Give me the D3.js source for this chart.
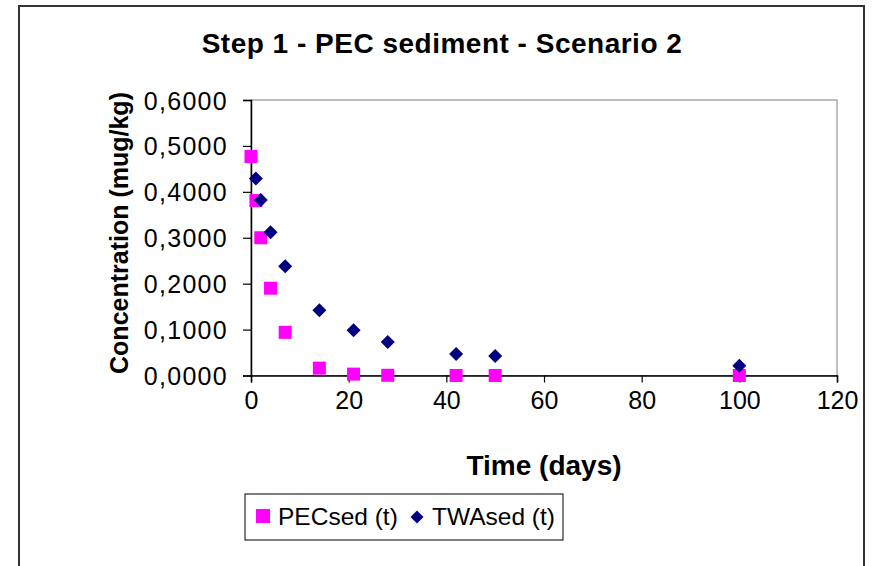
<!DOCTYPE html>
<html>
<head>
<meta charset="utf-8">
<script src="https://cdn.jsdelivr.net/npm/d3@7"></script>
<style>
  body { margin: 0; background: #fff; }
  svg text { font-family: "Liberation Sans", Arial, sans-serif; fill: #000; }
</style>
</head>
<body>
<div id="chart"></div>
<script>
// data
const pecDays = [0, 1, 2, 4, 7, 14, 21, 28, 42, 50, 100];
const pecValues = [0.477, 0.381, 0.300, 0.190, 0.094, 0.016, 0.003, 0.0005, 0.0, 0.0, 0.0];
const twaDays = [1, 2, 4, 7, 14, 21, 28, 42, 50, 100];
const twaValues = [0.429, 0.382, 0.312, 0.238, 0.142, 0.0985, 0.073, 0.047, 0.0425, 0.0214];
const xTicks = [0, 20, 40, 60, 80, 100, 120];
const yTicks = [0, 0.1, 0.2, 0.3, 0.4, 0.5, 0.6];
const seriesNames = ["PECsed (t)", "TWAsed (t)"];
const seriesColors = ["#FF00FF", "#000080"];

const width = 881, height = 566;
const svg = d3.select("#chart").append("svg").attr("width", width).attr("height", height);

svg.append("rect").attr("width", width).attr("height", height).attr("fill", "#fff");

// ydre ramme (bunden ligger uden for billedet)
svg.append("rect")
  .attr("x", 19).attr("y", 6).attr("width", 845).attr("height", 620)
  .attr("fill", "none").attr("stroke", "#333").attr("stroke-width", 2);

// plot område
const plotLeft = 251, plotRight = 837, plotTop = 100, plotBottom = 375.5;
const xScale = d3.scaleLinear().domain([0, 120]).range([plotLeft, plotRight]);
const yScale = d3.scaleLinear().domain([0, 0.6]).range([plotBottom, plotTop]);

svg.append("rect")
  .attr("x", plotLeft).attr("y", plotTop).attr("width", plotRight - plotLeft).attr("height", plotBottom - plotTop)
  .attr("fill", "none").attr("stroke", "#808080").attr("stroke-width", 1);

// akser
const fmt = d => d3.format(".4f")(d).replace(".", ",");
const yAxis = svg.append("g")
  .attr("transform", "translate(" + plotLeft + ",0)")
  .call(d3.axisLeft(yScale).tickValues(yTicks).tickFormat(fmt).tickSize(8).tickPadding(15));
yAxis.selectAll("text").style("font-size", "25px").style("letter-spacing", "1.3px").attr("dy", "0.36em");

const xAxis = svg.append("g")
  .attr("transform", "translate(0," + plotBottom + ")")
  .call(d3.axisBottom(xScale).tickValues(xTicks).tickFormat(d3.format("d")).tickSize(7).tickPadding(9));
xAxis.selectAll("text").style("font-size", "25px");

svg.selectAll(".domain").attr("stroke", "#000").attr("stroke-width", 1.5);
svg.selectAll(".tick line").attr("stroke", "#000").attr("stroke-width", 1.2);

// titler
svg.append("text")
  .attr("x", 442).attr("y", 53)
  .attr("text-anchor", "middle")
  .style("font-size", "28px").style("font-weight", "bold").style("letter-spacing", "0.5px")
  .text("Step 1 - PEC sediment - Scenario 2");

svg.append("text")
  .attr("x", 544).attr("y", 475)
  .attr("text-anchor", "middle")
  .style("font-size", "28px").style("font-weight", "bold")
  .text("Time  (days)");

svg.append("text")
  .attr("transform", "translate(128,233) rotate(-90)")
  .attr("text-anchor", "middle")
  .style("font-size", "25px").style("font-weight", "bold")
  .text("Concentration (mug/kg)");

// diamant-form
function diamond(r) {
  return "M0," + (-r) + "L" + r + ",0L0," + r + "L" + (-r) + ",0Z";
}

const pec = pecDays.map((d, i) => ({ x: d, y: pecValues[i] }));
const twa = twaDays.map((d, i) => ({ x: d, y: twaValues[i] }));

svg.append("g").selectAll("rect")
  .data(pec)
  .enter().append("rect")
  .attr("x", d => xScale(d.x) - 6.5)
  .attr("y", d => yScale(d.y) - 6.5)
  .attr("width", 13).attr("height", 13)
  .attr("fill", seriesColors[0]);

svg.append("g").selectAll("path")
  .data(twa)
  .enter().append("path")
  .attr("transform", d => "translate(" + xScale(d.x) + "," + yScale(d.y) + ")")
  .attr("d", diamond(7))
  .attr("fill", seriesColors[1]);

// legend
const legend = svg.append("g");
legend.append("rect")
  .attr("x", 245).attr("y", 494).attr("width", 318).attr("height", 46)
  .attr("fill", "#fff").attr("stroke", "#000").attr("stroke-width", 1);
legend.append("rect")
  .attr("x", 256).attr("y", 509).attr("width", 14).attr("height", 14)
  .attr("fill", seriesColors[0]);
legend.append("text").attr("x", 278).attr("y", 525)
  .style("font-size", "24.5px").text(seriesNames[0]);
legend.append("path")
  .attr("transform", "translate(417,517)")
  .attr("d", diamond(6.5))
  .attr("fill", seriesColors[1]);
legend.append("text").attr("x", 432).attr("y", 525)
  .style("font-size", "24.5px").text(seriesNames[1]);
</script>
</body>
</html>
